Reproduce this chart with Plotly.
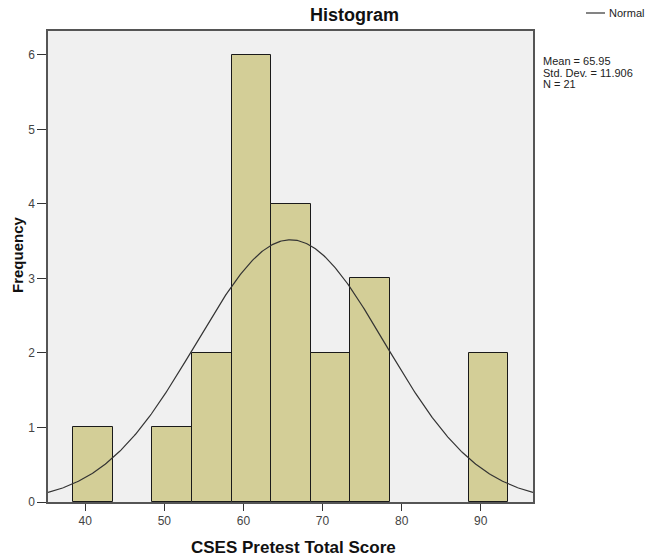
import numpy as np
import plotly.graph_objects as go

# Data
bin_left_edges = [38.5, 48.5, 53.5, 58.5, 63.5, 68.5, 73.5, 88.5]
counts = [1, 1, 2, 6, 4, 2, 3, 2]
bin_width = 5
mean_val = 65.95
std_val = 11.906
n_val = 21
x_ticks = [40, 50, 60, 70, 80, 90]
y_ticks = [0, 1, 2, 3, 4, 5, 6]

W, H = 647, 558
L, R, T, B = 48, 533, 31, 502
x_range = [35.3, 96.6]
y_range = [0, 6.32]

def px(xp):
    return (xp - L) / (R - L)

def py(yp):
    return (B - yp) / (B - T)

centers = [e + bin_width / 2 for e in bin_left_edges]

xs = np.linspace(x_range[0], x_range[1], 400)
ys = n_val * bin_width / (std_val * np.sqrt(2 * np.pi)) * np.exp(-0.5 * ((xs - mean_val) / std_val) ** 2)

fig = go.Figure()
fig.add_trace(go.Bar(
    x=centers, y=counts, width=bin_width,
    marker=dict(color="#d3ce97", line=dict(color="#1a1a1a", width=1)),
    showlegend=False, hoverinfo="skip"))
fig.add_trace(go.Scatter(
    x=xs, y=ys, mode="lines", line=dict(color="#333333", width=1.2),
    name="Normal", showlegend=False, hoverinfo="skip"))

font_family = "Liberation Sans, Arial, sans-serif"

fig.update_layout(
    width=W, height=H,
    margin=dict(l=L, r=W - R, t=T, b=H - B, pad=0),
    paper_bgcolor="white", plot_bgcolor="#f0f0f0",
    font=dict(family=font_family, color="#333333", size=12),
    bargap=0,
    xaxis=dict(range=x_range, tickvals=x_ticks, ticks="outside", ticklen=7,
               tickcolor="#333333", showgrid=False, zeroline=False,
               showline=True, linecolor="#555555", linewidth=1.5, mirror=True,
               tickfont=dict(size=12, color="#444444")),
    yaxis=dict(range=y_range, tickvals=y_ticks, ticks="outside", ticklen=9,
               tickcolor="#333333", showgrid=False, zeroline=False,
               showline=True, linecolor="#555555", linewidth=1.5, mirror=True,
               tickfont=dict(size=12, color="#444444")),
)

ann = []
ann.append(dict(text="<b>Histogram</b>", x=px(354), y=py(15), xref="paper", yref="paper",
                xanchor="center", yanchor="middle", showarrow=False,
                font=dict(size=18, color="#111111", family=font_family)))
ann.append(dict(text="<b>CSES Pretest Total Score</b>", x=px(293), y=py(547), xref="paper", yref="paper",
                xanchor="center", yanchor="middle", showarrow=False,
                font=dict(size=17, color="#111111", family=font_family)))
ann.append(dict(text="<b>Frequency</b>", x=px(17), y=py(255), xref="paper", yref="paper",
                xanchor="center", yanchor="middle", showarrow=False, textangle=-90,
                font=dict(size=15, color="#111111", family=font_family)))
stats_lines = [f"Mean = {mean_val}", f"Std. Dev. = {std_val}", f"N = {n_val}"]
for i, s in enumerate(stats_lines):
    ann.append(dict(text=s, x=px(541), y=py(61 + i * 11.5), xref="paper", yref="paper",
                    xanchor="left", yanchor="middle", showarrow=False,
                    font=dict(size=11, color="#222222", family=font_family)))
ann.append(dict(text="Normal", x=px(607), y=py(13), xref="paper", yref="paper",
                xanchor="left", yanchor="middle", showarrow=False,
                font=dict(size=11, color="#222222", family=font_family)))
fig.update_layout(annotations=ann)

fig.add_shape(type="line", xref="paper", yref="paper",
              x0=px(586), x1=px(605), y0=py(13), y1=py(13),
              line=dict(color="#333333", width=1.2))

fig.write_html("out.html")
